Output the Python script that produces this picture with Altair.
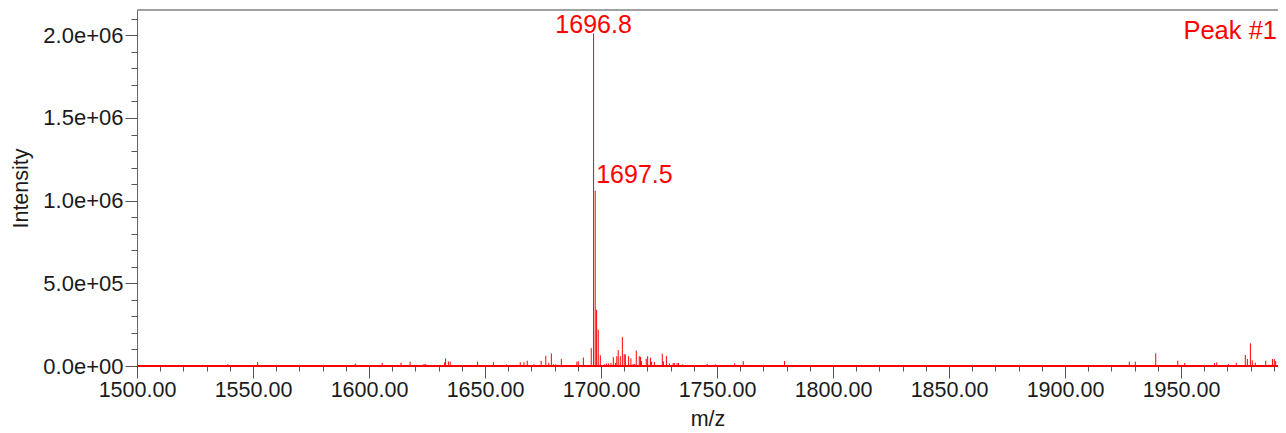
import altair as alt
import pandas as pd

# ---- data ----
mz = [
    1539.1, 1552.0, 1594.1, 1605.7, 1613.8, 1617.7, 1623.7, 1624.4, 1632.6, 1633.0,
    1634.2, 1635.0, 1646.8, 1653.6, 1659.2, 1665.2, 1666.8, 1668.2, 1671.1, 1674.2,
    1676.2, 1677.5, 1678.6, 1679.5, 1680.5, 1682.9, 1689.6, 1690.2, 1692.4, 1695.8,
    1696.8, 1697.5, 1698.1, 1698.8, 1699.7, 1701.5, 1702.3, 1703.2, 1704.3, 1705.3,
    1706.2, 1706.8, 1707.4, 1708.3, 1709.2, 1710.0, 1710.5, 1711.9, 1712.9, 1713.8,
    1714.5, 1715.2, 1716.5, 1717.0, 1717.4, 1719.5, 1720.1, 1721.3, 1721.8, 1723.0,
    1726.4, 1726.9, 1728.2, 1729.5, 1731.1, 1731.6, 1732.8, 1733.4, 1735.2, 1745.8,
    1749.3, 1757.6, 1761.3, 1767.8, 1779.1, 1829.4, 1838.3, 1870.4, 1927.7, 1930.3,
    1939.1, 1948.6, 1951.6, 1964.4, 1965.4, 1970.4, 1973.8, 1977.7, 1978.6, 1979.9,
    1980.7, 1982.0, 1986.5, 1987.6, 1989.4, 1990.2, 1990.8, 1992.5, 1994.3,
]
intensity = [
    1.0e4, 2.4e4, 1.4e4, 2.0e4, 2.0e4, 2.6e4, 1.2e4, 1.2e4, 2.2e4, 4.5e4,
    2.8e4, 2.6e4, 2.6e4, 2.4e4, 1.0e4, 2.3e4, 2.2e4, 3.2e4, 1.0e4, 3.1e4,
    6.2e4, 2.0e4, 7.6e4, 1.0e4, 1.0e4, 4.3e4, 2.6e4, 2.8e4, 5.1e4, 1.08e5,
    2.012e6, 1.06e6, 3.4e5, 2.2e5, 6.5e4, 1.0e4, 1.5e4, 1.5e4, 1.8e4, 5.4e4,
    1.8e4, 5.9e4, 9.6e4, 5.9e4, 1.75e5, 7.1e4, 7.0e4, 5.9e4, 4.6e4, 1.2e4,
    1.2e4, 9.3e4, 5.9e4, 5.5e4, 3.0e4, 4.4e4, 5.9e4, 5.0e4, 2.6e4, 2.4e4,
    7.4e4, 2.8e4, 6.0e4, 1.6e4, 1.8e4, 1.8e4, 1.8e4, 1.8e4, 1.0e4, 1.3e4,
    1.0e4, 1.6e4, 2.9e4, 6.0e3, 3.0e4, 6.0e3, 6.0e3, 6.0e3, 2.6e4, 2.6e4,
    7.7e4, 3.2e4, 1.8e4, 1.8e4, 2.2e4, 1.2e4, 2.0e4, 6.7e4, 4.2e4, 1.37e5,
    3.4e4, 2.0e4, 3.2e4, 8.0e3, 4.2e4, 4.2e4, 3.0e4, 2.2e4, 8.0e3,
]

top_label_mz = [1696.8]
top_label_int = [2.012e6]
top_label_text = ["1696.8"]
second_label_mz = [1697.5]
second_label_int = [1.06e6]
second_label_text = ["1697.5"]
corner_text = ["Peak #1"]

x_domain = [1500, 1991.8]
y_domain = [0, 2.153e6]
x_ticks = list(range(1500, 1995, 10))
y_ticks = list(range(0, 2200000, 100000))

df = pd.DataFrame({"mz": mz, "intensity": intensity})
lab1 = pd.DataFrame({"mz": top_label_mz, "intensity": top_label_int, "text": top_label_text})
lab2 = pd.DataFrame({"mz": second_label_mz, "intensity": second_label_int, "text": second_label_text})
corner = pd.DataFrame({"text": corner_text})
one = pd.DataFrame({"k": [0]})

W, H = 1141, 356
FONT = "Liberation Sans"
RED = "#ff0000"

xscale = alt.Scale(domain=x_domain, nice=False, zero=False)
yscale = alt.Scale(domain=y_domain, nice=False)

xaxis = alt.Axis(
    values=x_ticks,
    labelExpr="datum.value % 50 === 0 ? format(datum.value, '.2f') : ''",
    tickSize={"condition": {"test": "datum.value % 50 === 0", "value": 12}, "value": 5},
    labelOverlap=False,
    labelFlush=False,
    labelPadding=1,
    labelFontSize=21.5,
    titlePadding=8,
    grid=False,
)
yaxis = alt.Axis(
    values=y_ticks,
    labelExpr="datum.value % 500000 === 0 ? replace(format(datum.value, '.1e'), 'e+', 'e+0') : ''",
    tickSize={"condition": {"test": "datum.value % 500000 === 0", "value": 12}, "value": 6},
    labelOverlap=False,
    labelFlush=False,
    labelPadding=2,
    labelFontSize=22,
    titlePadding=10,
    grid=False,
)

X = alt.X("mz:Q", scale=xscale, axis=xaxis, title="m/z")
Y = alt.Y("intensity:Q", scale=yscale, axis=yaxis, title="Intensity")

peaks = alt.Chart(df).mark_rule(color=RED, strokeWidth=1, clip=True).encode(
    x=X, y=Y, y2=alt.datum(0)
)
baseline = alt.Chart(one).mark_rule(color=RED, strokeWidth=2).encode(
    y=alt.YDatum(0, scale=yscale, axis=yaxis, title="Intensity")
)
top_border = alt.Chart(one).mark_rule(color="#808080", strokeWidth=1.5).encode(
    y=alt.YDatum(y_domain[1], scale=yscale, axis=yaxis, title="Intensity")
)
labels1 = alt.Chart(lab1).mark_text(
    align="center", baseline="alphabetic", fontSize=25, font=FONT, color=RED
).encode(x=X, y=Y, text="text:N")
labels2 = alt.Chart(lab2).mark_text(
    align="left", baseline="alphabetic", fontSize=25, font=FONT, color=RED, dx=1, dy=-8
).encode(x=X, y=Y, text="text:N")
corner_label = alt.Chart(corner).mark_text(
    align="right", baseline="alphabetic", fontSize=25.5, font=FONT, color=RED
).encode(x=alt.value(W - 1), y=alt.value(29), text="text:N")

chart = alt.layer(peaks, baseline, top_border, labels1, labels2, corner_label).properties(
    width=W, height=H,
    autosize=alt.AutoSizeParams(type="none"),
    padding={"left": 129, "top": 2, "right": 0, "bottom": 67},
).configure_view(
    stroke="transparent"
).configure_axis(
    labelFont=FONT, labelFontSize=21.5, labelColor="#1a1a1a",
    titleFont=FONT, titleFontSize=21.5, titleFontWeight="normal", titleColor="#1a1a1a",
    domainColor="#666666", tickColor="#555555", tickWidth=1, labelOverlap=False,
)

chart.save("out.html", embed_options={"renderer": "svg", "actions": False})
